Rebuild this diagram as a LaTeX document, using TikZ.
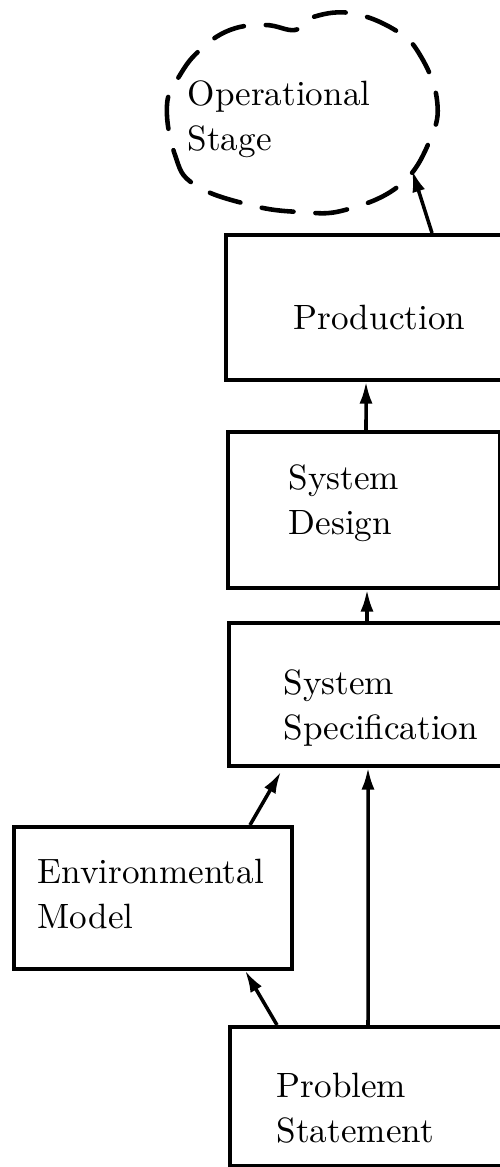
\documentclass[tikz,border=0pt]{standalone}
\usepackage{tikz}
\usetikzlibrary{arrows.meta, positioning}

\begin{document}
\begin{tikzpicture}[
    stagebox/.style={rectangle, draw=black, line width=1pt, anchor=north west,
                 align=left, minimum height=#1, inner ysep=0pt,
                 font=\fontsize{10}{12.8}\selectfont},
    flow/.style={-{Latex[length=2.2mm,width=1.3mm]}, line width=1pt},
    cloudline/.style={line width=1.3pt, dash pattern=on 3.2mm off 2.2mm, line cap=round}
  ]
    \useasboundingbox (0,0) rectangle (5,-11.67);

    % the stages, bottom to top
    \node[stagebox=1.39cm, inner xsep=0.47cm, text width=2.5cm, text height=0.485cm] (prob) at (2.28,-10.25)
      {Problem\\Statement};
    \node[stagebox=1.42cm, inner xsep=0.24cm, text width=2.3cm, text height=0.165cm] (env) at (0.12,-8.25)
      {Environmental\\Model};
    \node[stagebox=1.43cm, inner xsep=0.55cm, text width=2.4cm, text height=0.525cm] (spec) at (2.27,-6.21)
      {System\\Specification};
    \node[stagebox=1.56cm, inner xsep=0.61cm, text width=1.5cm, text height=0.125cm] (sysdes) at (2.26,-4.30)
      {System\\Design};
    \node[stagebox=1.45cm, inner xsep=0.68cm, text width=2.4cm, text height=0.445cm] (prod) at (2.24,-2.33)
      {Production};

    % operational stage, dashed outline
    \draw[cloudline] plot[smooth cycle, tension=0.7] coordinates {
      (1.67,-1.05) (1.75,-1.55) (1.95,-1.85) (2.50,-2.05) (3.00,-2.12)
      (3.45,-2.10) (4.00,-1.85) (4.30,-1.40) (4.37,-1.00) (4.20,-0.55)
      (3.95,-0.30) (3.50,-0.13) (3.10,-0.18) (2.95,-0.30) (2.65,-0.25)
      (2.30,-0.30) (2.00,-0.50) (1.80,-0.75)};
    \coordinate (opin) at (4.12,-1.70);
    \node[anchor=north west, inner sep=0pt, align=left,
          font=\fontsize{10}{12.8}\selectfont] (opstage) at (1.87,-0.80)
      {Operational\\Stage};

    \draw[flow] ([xshift=2.08cm]prod.north west) -- (opin);
    \draw[flow] ([xshift=1.40cm]sysdes.north west) -- ([xshift=1.42cm]prod.south west);
    \draw[flow] ([xshift=1.40cm]spec.north west) -- ([xshift=1.41cm]sysdes.south west);
    \draw[flow] ([xshift=2.38cm]env.north west) -- ([xshift=0.54cm,yshift=-0.04cm]spec.south west);
    \draw[flow] ([xshift=1.40cm]prob.north west) -- ([xshift=1.41cm]spec.south west);
    \draw[flow] ([xshift=0.49cm]prob.north west) -- ([xshift=2.33cm]env.south west);
  \end{tikzpicture}
\end{document}
